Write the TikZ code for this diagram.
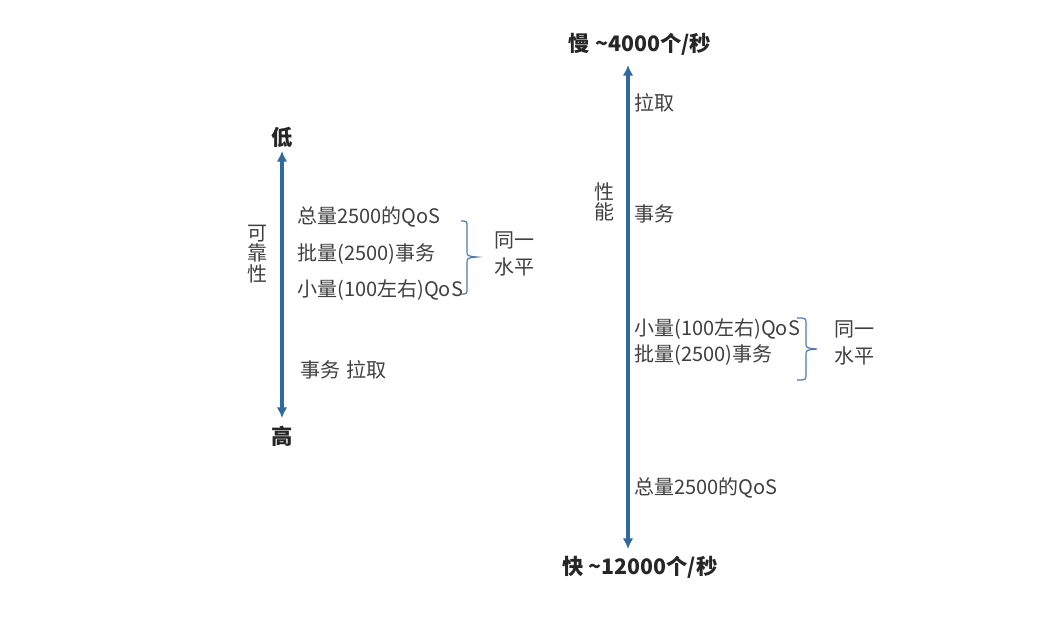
\documentclass[tikz,border=0pt]{standalone}
\usepackage{fontspec}
\setmainfont{Noto Sans CJK SC}
\usetikzlibrary{arrows.meta}
\definecolor{axisblue}{HTML}{2E6AA0}
\definecolor{bracecol}{HTML}{4A7AB0}
\definecolor{txt}{HTML}{404040}
\definecolor{ttl}{HTML}{262626}
\tikzset{
  lbl/.style={anchor=west,inner sep=0pt,text=txt,font=\fontsize{15}{17}\selectfont},
  ttlnode/.style={inner sep=0pt,text=ttl,font=\fontsize{16}{18}\selectfont\bfseries},
  vlbl/.style={inner sep=0pt,text=txt,align=center,font=\fontsize{15}{20}\selectfont},
  vert/.style={inner sep=0pt,text=txt,align=center,font=\fontsize{15}{15.5}\selectfont},
  axis/.style={axisblue,line width=2.4pt,{Latex[length=8pt,width=8pt]}-{Latex[length=8pt,width=8pt]}},
  bracepath/.style={bracecol,line width=0.9pt}
}
\begin{document}
\begin{tikzpicture}[x=0.75pt,y=-0.75pt]
\useasboundingbox[fill=white] (0,0) rectangle (1052,619);
% ---------- left: reliability ----------
\node[ttlnode] (low) at (282,137) {低};
\node[ttlnode] (high) at (282,436) {高};
\coordinate (la) at (282,151);
\coordinate (lb) at (282,418);
\draw[axis] (la) -- (lb);
\node[vert] (rel) at (257,254) {可\\靠\\性};
\node[lbl] (l1) at (297,217) {总量2500的QoS};
\node[lbl] (l2) at (297,254) {批量(2500)事务};
\node[lbl] (l3) at (297,290) {小量(100左右)QoS};
\node[lbl] (l4) at (300,370) {事务\hspace{0.3em}拉取};
\coordinate (lbt) at (461,221);
\coordinate (lbb) at (461,294);
\draw[bracepath] (lbt) .. controls (467,221) .. (467,227) -- (467,251)
  .. controls (467,256) .. (477,257) .. controls (467,258) .. (467,263)
  -- (467,288) .. controls (467,294) .. (lbb);
\node[vlbl] (lsame) at (514,254) {同一\\水平};
% ---------- right: performance ----------
\node[ttlnode] (slow) at (640,44) {慢 \textasciitilde4000个/秒};
\node[ttlnode] (fast) at (640,567) {快 \textasciitilde12000个/秒};
\coordinate (ra) at (628,65);
\coordinate (rb) at (628,549);
\draw[axis] (ra) -- (rb);
\node[vert] (perf) at (604,202) {性\\能};
\node[lbl] (r1) at (634,103) {拉取};
\node[lbl] (r2) at (634,214) {事务};
\node[lbl] (r3) at (634,329) {小量(100左右)QoS};
\node[lbl] (r4) at (634,355) {批量(2500)事务};
\node[lbl] (r5) at (634,488) {总量2500的QoS};
\coordinate (rbt) at (797,318);
\coordinate (rbb) at (797,380);
\draw[bracepath] (rbt) .. controls (806,318) .. (806,324) -- (806,343)
  .. controls (806,348) .. (817,349) .. controls (806,350) .. (806,355)
  -- (806,374) .. controls (806,380) .. (rbb);
\node[vlbl] (rsame) at (854,343) {同一\\水平};
\end{tikzpicture}
\end{document}
